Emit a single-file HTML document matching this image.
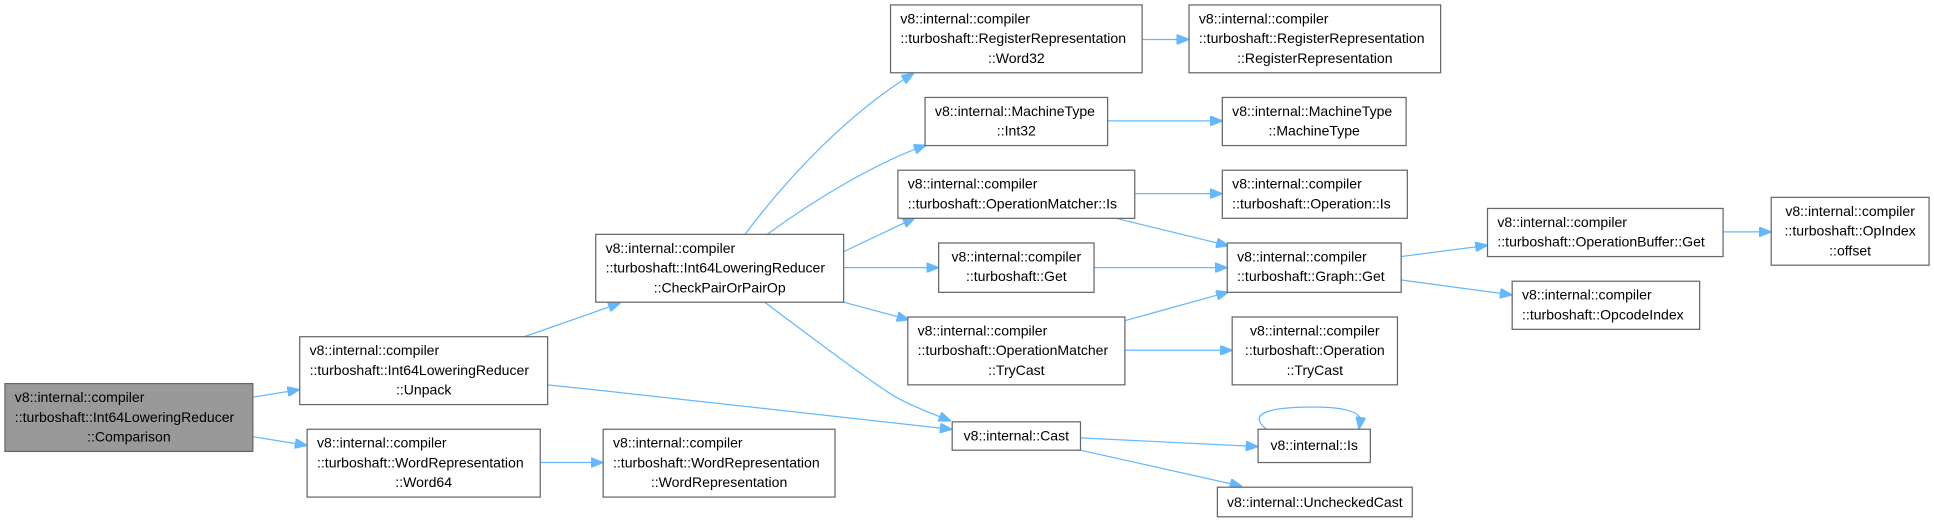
<!DOCTYPE html>
<html><head><meta charset="utf-8"><style>
html,body{margin:0;padding:0;background:#fff;}
svg{display:block}
text{font-family:"Liberation Sans",sans-serif;font-size:11.4px;fill:#000}
rect{fill:#fff;stroke:#666;stroke-width:1}
path{fill:none;stroke:#63b8ff;stroke-width:1}
</style></head><body>
<svg width="1934" height="522" viewBox="0 0 1568 423.2" xmlns="http://www.w3.org/2000/svg">
<defs><marker id="a" markerWidth="10" markerHeight="8" refX="9" refY="4" orient="auto" markerUnits="userSpaceOnUse"><path d="M0,0 L10,4 L0,8 z" style="fill:#63b8ff;stroke:#63b8ff"/></marker></defs>
<g>
<path marker-end="url(#a)" d="M205,322 L242,316"/>
<path marker-end="url(#a)" d="M205,354 L248,361"/>
<path marker-end="url(#a)" d="M425,273 L502,246"/>
<path marker-end="url(#a)" d="M444,312 C560,324 680,338 771,348"/>
<path marker-end="url(#a)" d="M438,375 L488,375"/>
<path marker-end="url(#a)" d="M604,190 C640,142 690,90 740,60"/>
<path marker-end="url(#a)" d="M622,190 C660,162 710,132 750,118"/>
<path marker-end="url(#a)" d="M684,204 L741,177"/>
<path marker-end="url(#a)" d="M684,217 L760,217"/>
<path marker-end="url(#a)" d="M684,245 L736,259"/>
<path marker-end="url(#a)" d="M620,245 C660,275 700,305 720,318 C735,328 755,335 770,341"/>
<path marker-end="url(#a)" d="M926,32 L963,32"/>
<path marker-end="url(#a)" d="M898,98 L990,98"/>
<path marker-end="url(#a)" d="M920,157 L990,157"/>
<path marker-end="url(#a)" d="M905,177 L995,199"/>
<path marker-end="url(#a)" d="M887,217 L994,217"/>
<path marker-end="url(#a)" d="M912,260 L995,237"/>
<path marker-end="url(#a)" d="M912,284 L998,284"/>
<path marker-end="url(#a)" d="M1136,208 L1205,199"/>
<path marker-end="url(#a)" d="M1136,227 L1225,239"/>
<path marker-end="url(#a)" d="M1397,188 L1435,188"/>
<path marker-end="url(#a)" d="M876,355 L1019,362"/>
<path marker-end="url(#a)" d="M876,365 L1006,394"/>
<path marker-end="url(#a)" d="M1027,348 C1010,335 1030,330 1065,330 C1090,330 1102,334 1103,340 L1102,347"/>
</g>
<g>
<rect x="4" y="311" width="201" height="55" style="fill:#999"/>
<text x="12" y="326">v8::internal::compiler</text><text x="12" y="342">::turboshaft::Int64LoweringReducer</text><text x="104.5" y="358" text-anchor="middle">::Comparison</text>

<rect x="243" y="273" width="201" height="55"/>
<text x="251" y="288">v8::internal::compiler</text><text x="251" y="304">::turboshaft::Int64LoweringReducer</text><text x="343.5" y="320" text-anchor="middle">::Unpack</text>

<rect x="249" y="348" width="189" height="55"/>
<text x="257" y="363">v8::internal::compiler</text><text x="257" y="379">::turboshaft::WordRepresentation</text><text x="343.5" y="395" text-anchor="middle">::Word64</text>

<rect x="489" y="348" width="188" height="55"/>
<text x="497" y="363">v8::internal::compiler</text><text x="497" y="379">::turboshaft::WordRepresentation</text><text x="583" y="395" text-anchor="middle">::WordRepresentation</text>

<rect x="483" y="190" width="201" height="55"/>
<text x="491" y="205">v8::internal::compiler</text><text x="491" y="221">::turboshaft::Int64LoweringReducer</text><text x="583.5" y="237" text-anchor="middle">::CheckPairOrPairOp</text>

<rect x="722" y="4" width="204" height="55"/>
<text x="730" y="19">v8::internal::compiler</text><text x="730" y="35">::turboshaft::RegisterRepresentation</text><text x="824" y="51" text-anchor="middle">::Word32</text>

<rect x="964" y="4" width="204" height="55"/>
<text x="972" y="19">v8::internal::compiler</text><text x="972" y="35">::turboshaft::RegisterRepresentation</text><text x="1066" y="51" text-anchor="middle">::RegisterRepresentation</text>

<rect x="750" y="79" width="148" height="39"/>
<text x="758" y="94">v8::internal::MachineType</text><text x="824" y="110" text-anchor="middle">::Int32</text>

<rect x="991" y="79" width="149" height="39"/>
<text x="999" y="94">v8::internal::MachineType</text><text x="1065.5" y="110" text-anchor="middle">::MachineType</text>

<rect x="728" y="138" width="192" height="39"/>
<text x="736" y="153">v8::internal::compiler</text><text x="736" y="169">::turboshaft::OperationMatcher::Is</text>

<rect x="991" y="138" width="150" height="39"/>
<text x="999" y="153">v8::internal::compiler</text><text x="999" y="169">::turboshaft::Operation::Is</text>

<rect x="761" y="197" width="126" height="40"/>
<text x="824" y="212" text-anchor="middle">v8::internal::compiler</text><text x="824" y="228" text-anchor="middle">::turboshaft::Get</text>

<rect x="995" y="197" width="141" height="40"/>
<text x="1003" y="212">v8::internal::compiler</text><text x="1003" y="228">::turboshaft::Graph::Get</text>

<rect x="736" y="257" width="176" height="55"/>
<text x="744" y="272">v8::internal::compiler</text><text x="744" y="288">::turboshaft::OperationMatcher</text><text x="824" y="304" text-anchor="middle">::TryCast</text>

<rect x="999" y="257" width="134" height="55"/>
<text x="1066" y="272" text-anchor="middle">v8::internal::compiler</text><text x="1066" y="288" text-anchor="middle">::turboshaft::Operation</text><text x="1066" y="304" text-anchor="middle">::TryCast</text>

<rect x="772" y="342" width="104" height="23"/>
<text x="824" y="357" text-anchor="middle">v8::internal::Cast</text>

<rect x="1020" y="348" width="91" height="27"/>
<text x="1065.5" y="365" text-anchor="middle">v8::internal::Is</text>

<rect x="987" y="395" width="158" height="24"/>
<text x="1066" y="411" text-anchor="middle">v8::internal::UncheckedCast</text>

<rect x="1206" y="169" width="191" height="39"/>
<text x="1214" y="184">v8::internal::compiler</text><text x="1214" y="200">::turboshaft::OperationBuffer::Get</text>

<rect x="1436" y="160" width="128" height="55"/>
<text x="1500" y="175" text-anchor="middle">v8::internal::compiler</text><text x="1500" y="191" text-anchor="middle">::turboshaft::OpIndex</text><text x="1500" y="207" text-anchor="middle">::offset</text>

<rect x="1226" y="228" width="152" height="39"/>
<text x="1234" y="243">v8::internal::compiler</text><text x="1234" y="259">::turboshaft::OpcodeIndex</text>
</g>
</svg>
</body></html>
